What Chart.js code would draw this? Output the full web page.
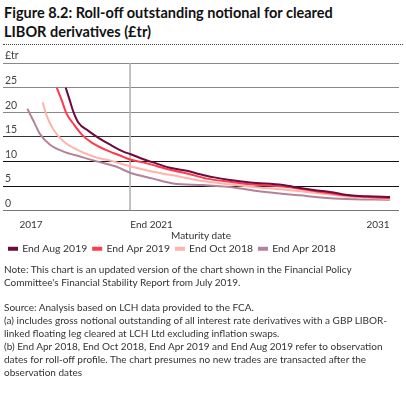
<!DOCTYPE html>
<html>
<head>
<meta charset="utf-8">
<script src="https://cdn.jsdelivr.net/npm/chart.js@4.4.1/dist/chart.umd.min.js"></script>
<style>
  html,body{margin:0;padding:0;background:#fff;}
  body{width:406px;height:396px;position:relative;overflow:hidden;font-family:Lato,"Open Sans",sans-serif;color:#222;}
  #title{position:absolute;left:4px;top:3px;font-size:14.5px;font-weight:bold;line-height:19px;color:#111;}
  #rule{position:absolute;left:3px;top:44px;width:400px;border-top:1px dotted #444;}
  #wrap{position:absolute;left:0;top:0;width:406px;height:264px;}
  #notes{position:absolute;left:4px;top:263px;width:400px;font-size:10px;line-height:13px;color:#333;}
  #notes p{margin:0 0 12px 0;}
</style>
</head>
<body>
<div id="title">Figure 8.2: Roll-off outstanding notional for cleared<br>LIBOR derivatives (£tr)</div>
<div id="rule"></div>
<div id="wrap"><canvas id="c" width="406" height="264"></canvas></div>
<div id="notes">
<p>Note: This chart is an updated version of the chart shown in the Financial Policy Committee's Financial Stability Report from July 2019.</p>
<p>Source: Analysis based on LCH data provided to the FCA.<br>(a) includes gross notional outstanding of all interest rate derivatives with a GBP LIBOR-linked floating leg cleared at LCH Ltd excluding inflation swaps.<br>(b) End Apr 2018, End Oct 2018, End Apr 2019 and End Aug 2019 refer to observation dates for roll-off profile. The chart presumes no new trades are transacted after the observation dates</p>
</div>
<script>
const seriesNames = ["End Aug 2019", "End Apr 2019", "End Oct 2018", "End Apr 2018"];
// Maturity dates (decimal years) and outstanding notional (£tr)
const aug2019Dates = [2019.70,2019.83,2019.98,2020.15,2020.51,2020.87,2021.29,2021.76,2022.00,2022.36,2022.82,2023.43,2024.03,2024.50,2024.96,2025.57,2026.29,2027.46,2028.07,2028.68,2029.14,2029.86,2030.50,2031.29];
const aug2019Values = [25.0,22.7,20.0,17.9,16.2,14.8,13.4,12.0,11.5,10.7,9.8,8.7,8.1,7.4,6.8,6.2,5.7,5.2,4.6,4.1,3.8,3.1,2.9,2.75];
const apr2019Dates = [2019.38,2019.56,2019.74,2019.98,2020.27,2020.63,2021.11,2021.64,2022.00,2022.60,2023.43,2024.14,2024.74,2025.57,2026.39,2027.46,2028.68,2029.86,2031.29];
const apr2019Values = [25.0,22.4,19.6,17.6,15.5,13.8,12.4,11.2,10.4,9.6,8.3,7.4,6.5,5.85,5.3,4.9,3.9,3.0,2.55];
const oct2018Dates = [2018.88,2019.02,2019.26,2019.62,2020.10,2020.69,2021.40,2022.00,2022.82,2023.79,2024.61,2025.57,2026.39,2027.46,2028.68,2029.86,2031.29];
const oct2018Values = [22.0,19.3,16.5,14.1,12.4,11.0,10.0,9.0,7.9,6.9,6.0,5.3,4.8,4.3,3.6,2.8,2.4];
const apr2018Dates = [2018.33,2018.55,2018.79,2019.14,2019.62,2020.21,2020.81,2021.52,2022.00,2022.82,2023.54,2024.61,2025.57,2026.39,2028.07,2029.50,2031.29];
const apr2018Values = [20.7,18.2,15.5,13.4,12.0,11.0,10.0,8.9,7.7,6.5,5.5,5.2,4.8,4.1,3.1,2.4,2.2];
const seriesColors = ["#6e0a3c", "#ff3a4c", "#ffb3aa", "#b4829a"];
// x tick labels and where they sit (decimal years)
const xTickLabels = ["2017", "End 2021", "2031"];
const xTickValues = [2018.46, 2022.77, 2030.86];
const markerDate = 2022.0; // End 2021 reference line
const yTicks = [0,5,10,15,20,25,30];

function pts(xs, ys){ return xs.map((x,i)=>({x:x, y:ys[i]})); }
const allDates=[aug2019Dates,apr2019Dates,oct2018Dates,apr2018Dates];
const allValues=[aug2019Values,apr2019Values,oct2018Values,apr2018Values];

const datasets = [{
  label: "_marker",
  data: [{x:markerDate,y:0},{x:markerDate,y:30}],
  borderColor: "#b3b3b3",
  backgroundColor: "#b3b3b3",
  borderWidth: 1.6,
  pointRadius: 0,
  order: 10
}];
for (let i=3;i>=0;i--){
  datasets.push({
    label: seriesNames[i],
    data: pts(allDates[i], allValues[i]),
    borderColor: seriesColors[i],
    backgroundColor: seriesColors[i],
    borderWidth: 2,
    pointRadius: 0,
    cubicInterpolationMode: "monotone",
    order: i
  });
}

const gridCols = {0:"#777",5:"#111",10:"#111",15:"#333",20:"#888",25:"#888",30:"#888"};

new Chart(document.getElementById("c"), {
  type: "line",
  data: { datasets },
  options: {
    responsive: false,
    animation: false,
    layout: { padding: { top: 63, left: 3, right: 7, bottom: 0 } },
    plugins: {
      legend: {
        position: "bottom",
        align: "start",
        labels: {
          boxWidth: 8, boxHeight: 2, padding: 6,
          color: "#333",
          font: { family: "Lato", size: 10.4 },
          filter: (item) => item.text !== "_marker",
          sort: (a,b) => b.datasetIndex - a.datasetIndex
        }
      },
      tooltip: { enabled: false }
    },
    scales: {
      x: {
        type: "linear",
        min: 2017.46, max: 2031.61,
        afterBuildTicks: (ax) => { ax.ticks = xTickValues.map(v=>({value:v})); },
        grid: { display: false },
        border: { display: false },
        ticks: {
          autoSkip: false, maxRotation: 0, padding: 0,
          color: "#333", font: { family: "Lato", size: 10 },
          callback: (v) => { const i = xTickValues.indexOf(v); return i>=0 ? xTickLabels[i] : ""; }
        },
        title: { display: true, text: "Maturity date", color: "#333", font: { family: "Lato", size: 10 }, padding: {top: -1, bottom: -4} }
      },
      y: {
        type: "linear",
        min: 0, max: 30,
        afterBuildTicks: (ax) => { ax.ticks = yTicks.map(v=>({value:v})); },
        afterFit: (ax) => { ax.width = 0; },
        border: { display: false },
        grid: {
          color: (ctx) => (ctx.tick && gridCols[ctx.tick.value]) || "#555",
          lineWidth: 1,
          drawTicks: false
        },
        ticks: {
          mirror: true, padding: 2, labelOffset: -7,
          color: "#444", font: { family: "Lato", size: 10.5 },
          callback: (v) => v === 30 ? "£tr" : String(v)
        }
      }
    }
  }
});
</script>
</body>
</html>
